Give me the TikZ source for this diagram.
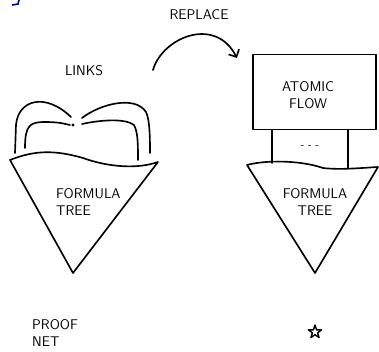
\documentclass[tikz,border=0pt]{standalone}
\usepackage{tikz}
\usetikzlibrary{arrows.meta,shapes.geometric}

\tikzset{
  sketch/.style={line width=1.4pt,line cap=round,line join=round},
  hand/.style={font=\large\sffamily,inner sep=0pt},
  flowbox/.style={sketch,draw,minimum width=36.9mm,minimum height=22.5mm,inner sep=0pt},
}

\begin{document}
\begin{tikzpicture}[x=0.3mm,y=-0.3mm]
\useasboundingbox (0,0) rectangle (379,351);

% stray blue stroke in the corner
\draw[line width=1.4pt,blue!70!black] (19,0) -- (18,4) -- (12,5);

% labels on top
\node[hand] (replace) at (199,15) {REPLACE};
\node[hand] (links) at (84,71) {LINKS};

% replace arrow
\coordinate (rfrom) at (153,70);
\coordinate (rto) at (237,58);
\draw[sketch,-{Straight Barb[length=5pt,width=10pt]}] (rfrom) .. controls (162,38) and (215,15) .. (rto);

% left: proof net
\draw[sketch] (10,160) .. controls (35,150) and (55,150) .. (83,158)
  .. controls (105,166) and (135,170) .. (158,162) -- (73,273) -- cycle;
\node[hand,align=left,anchor=west] (tree1) at (56,202) {FORMULA\\TREE};

\fill (73,125) circle (1.6);
\draw[sketch] (15,153) -- (16,125) .. controls (18,100) and (45,92) .. (71,117);
\draw[sketch] (25,148) .. controls (25,125) and (30,122) .. (45,122)
  .. controls (60,122) and (65,124) .. (70,125);
\draw[sketch] (82,118) .. controls (100,104) and (135,95) .. (146,112)
  .. controls (150,120) and (150,140) .. (150,153);
\draw[sketch] (82,124) .. controls (100,120) and (125,118) .. (134,125)
  .. controls (138,132) and (138,145) .. (138,160);

\node[hand,align=left,anchor=west] (proofnet) at (32,333) {PROOF\\NET};

% right: atomic flow on top of the formula tree
\node[flowbox] (flow) at (314.5,92) {};
\node[hand,align=center] (flowtext) at (308,95) {ATOMIC\\FLOW};

\draw[sketch] (247,165) .. controls (265,160) and (300,160) .. (323,168)
  .. controls (340,170) and (360,168) .. (378,167) -- (315,273) -- cycle;
\node[hand,align=center] (tree2) at (315,202) {FORMULA\\TREE};

\coordinate (tl) at (272,163);
\coordinate (tr) at (348,168);
\draw[sketch] (flow.south -| tl) -- (tl);
\draw[sketch] (flow.south -| tr) -- (tr);
\node[hand,font=\small\sffamily] (dots) at (310,147) {- - -};

\node[star,star points=5,star point ratio=2.6,draw,sketch,line width=1.2pt,minimum size=4.2mm,inner sep=0pt] (mark) at (315,332) {};
\end{tikzpicture}
\end{document}
